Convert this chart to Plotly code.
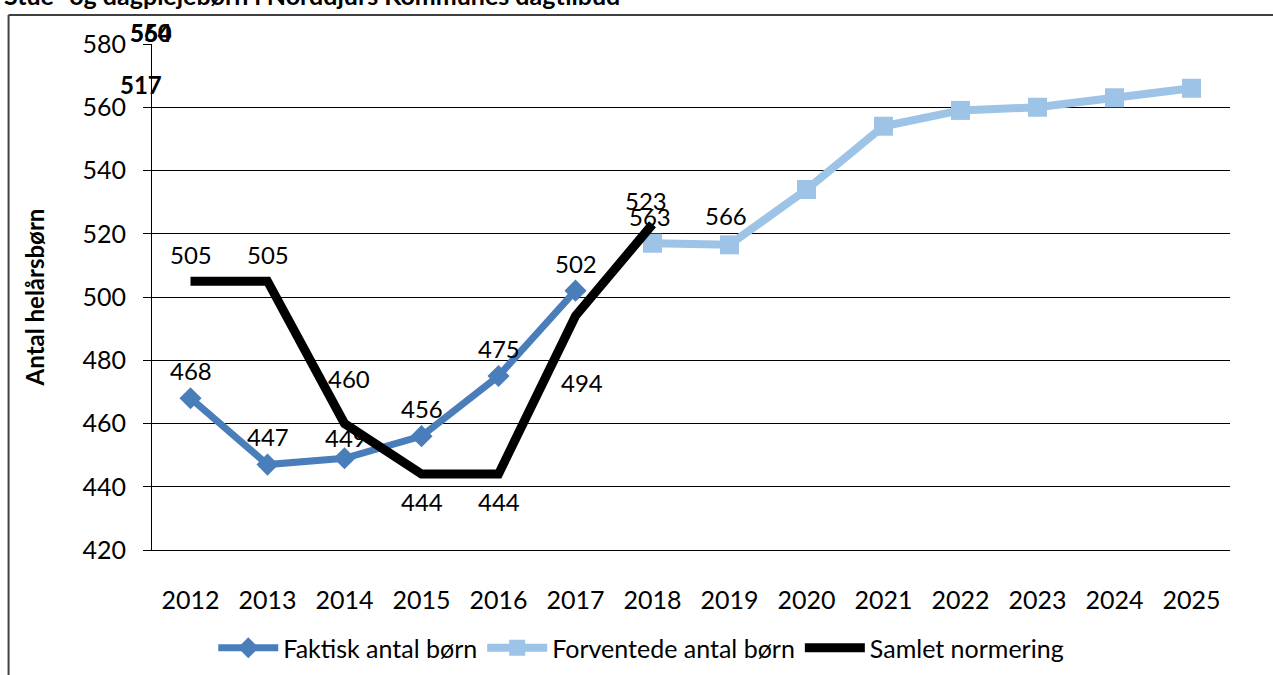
import plotly.graph_objects as go

# ---------------- data ----------------
years = ["2012", "2013", "2014", "2015", "2016", "2017", "2018",
         "2019", "2020", "2021", "2022", "2023", "2024", "2025"]

faktisk_years = ["2012", "2013", "2014", "2015", "2016", "2017"]
faktisk = [468, 447, 449, 456, 475, 502]

forventede_years = ["2018", "2019", "2020", "2021", "2022", "2023", "2024", "2025"]
forventede = [517, 516.5, 534, 554, 559, 560, 563, 566]

samlet_years = ["2012", "2013", "2014", "2015", "2016", "2017", "2018"]
samlet = [505, 505, 460, 444, 444, 494, 523]

# label offsets (pixels) for data labels
faktisk_off = [(0, 28), (0, 28), (1, 21), (0, 28), (0, 28), (0, 27)]
samlet_off = [(0, 27), (0, 27), (4, 45), (0, -27), (0, -27), (6, -67), (-7, 24)]
# displaced labels of Forventede series as drawn in the original (pixel positions)
displaced = [("563", 650, 216), ("566", 726, 215), ("517", 140, 84),
             ("560", 150, 33), ("554", 150, 33)]

title_text = "Stue- og dagplejebørn i Norddjurs Kommunes dagtilbud"

# ---------------- layout geometry ----------------
W, H = 1273, 675
L, R, T, B = 151.5, 43, 44, 125
PW, PH = W - L - R, H - T - B


def px_to_paper(px, py):
    return (px - L) / PW, (H - B - py) / PH


FONT = "Lato, 'Open Sans', sans-serif"
FS = 25
C_FAKT = "#4A7EBB"
C_FORV = "#9DC3E6"
C_SAML = "#000000"

fig = go.Figure()

fig.add_trace(go.Scatter(
    x=faktisk_years, y=faktisk, name="Faktisk antal børn",
    mode="lines+markers",
    line=dict(color=C_FAKT, width=7),
    marker=dict(symbol="diamond", size=17, color=C_FAKT),
    cliponaxis=False,
))
fig.add_trace(go.Scatter(
    x=forventede_years, y=forventede, name="Forventede antal børn",
    mode="lines+markers",
    line=dict(color=C_FORV, width=8),
    marker=dict(symbol="square", size=19, color=C_FORV),
    cliponaxis=False,
))
fig.add_trace(go.Scatter(
    x=samlet_years, y=samlet, name="Samlet normering",
    mode="lines",
    line=dict(color=C_SAML, width=9),
    cliponaxis=False,
))

annotations = []
for x, y, (dx, dy) in zip(faktisk_years, faktisk, faktisk_off):
    annotations.append(dict(x=years.index(x), y=y, xref="x", yref="y", text=str(y),
                            showarrow=False, xshift=dx, yshift=dy,
                            font=dict(family=FONT, size=FS - 1, color="#000")))
for x, y, (dx, dy) in zip(samlet_years, samlet, samlet_off):
    annotations.append(dict(x=years.index(x), y=y, xref="x", yref="y", text=str(y),
                            showarrow=False, xshift=dx, yshift=dy,
                            font=dict(family=FONT, size=FS - 1, color="#000")))
for txt, px, py in displaced:
    ax, ay = px_to_paper(px, py)
    bold = py < 100
    annotations.append(dict(x=ax, y=ay, xref="paper", yref="paper",
                            text=("<b>%s</b>" % txt) if bold else txt,
                            showarrow=False, xanchor="center", yanchor="middle",
                            font=dict(family=FONT, size=FS - 1, color="#000")))

# cut-off title at the very top
tx, ty = px_to_paper(1, 12)
annotations.append(dict(x=tx, y=ty, xref="paper", yref="paper", text="<b>" + title_text + "</b>",
                        showarrow=False, xanchor="left", yanchor="bottom",
                        font=dict(family=FONT, size=25, color="#000")))

# outer chart-area border (top and left edges visible)
x0, y0 = px_to_paper(8, 15)
x1, y1 = px_to_paper(1290, 700)
shapes = [
    dict(type="line", xref="paper", yref="paper", x0=x0, y0=y0, x1=x1, y1=y0,
         line=dict(color="#404040", width=2)),
    dict(type="line", xref="paper", yref="paper", x0=x0, y0=y0, x1=x0, y1=y1,
         line=dict(color="#404040", width=2)),
]

lx, ly = px_to_paper(641, 648)
fig.update_layout(
    width=W, height=H,
    margin=dict(l=L, r=R, t=T, b=B, pad=0, autoexpand=False),
    paper_bgcolor="white", plot_bgcolor="white",
    font=dict(family=FONT, size=FS, color="#000"),
    showlegend=True,
    legend=dict(orientation="h", x=lx, xanchor="center", y=ly, yanchor="middle",
                font=dict(family=FONT, size=FS, color="#000"),
                itemwidth=60, traceorder="normal", bgcolor="rgba(0,0,0,0)"),
    annotations=annotations,
    shapes=shapes,
)

fig.update_xaxes(
    type="category", categoryorder="array", categoryarray=years,
    range=[-0.5, len(years) - 0.5],
    showline=True, linecolor="#000", linewidth=1,
    showgrid=False, ticks="", ticklabelstandoff=28,
    tickfont=dict(family=FONT, size=FS, color="#000"),
    zeroline=False, automargin=False,
)
fig.update_yaxes(
    range=[420, 580], dtick=20, tick0=420,
    showline=True, linecolor="#000", linewidth=1,
    showgrid=True, gridcolor="#000", gridwidth=1,
    ticks="outside", ticklen=8, tickcolor="#000", tickwidth=1,
    ticklabelstandoff=12,
    tickfont=dict(family=FONT, size=FS, color="#000"),
    title=dict(text="<b>Antal helårsbørn</b>", font=dict(family=FONT, size=24, color="#000"),
               standoff=31),
    zeroline=False, automargin=False,
)

fig.write_html("out.html",
               config={"displayModeBar": False},
               post_script="document.body.style.margin='0px';document.body.style.overflow='hidden';")
